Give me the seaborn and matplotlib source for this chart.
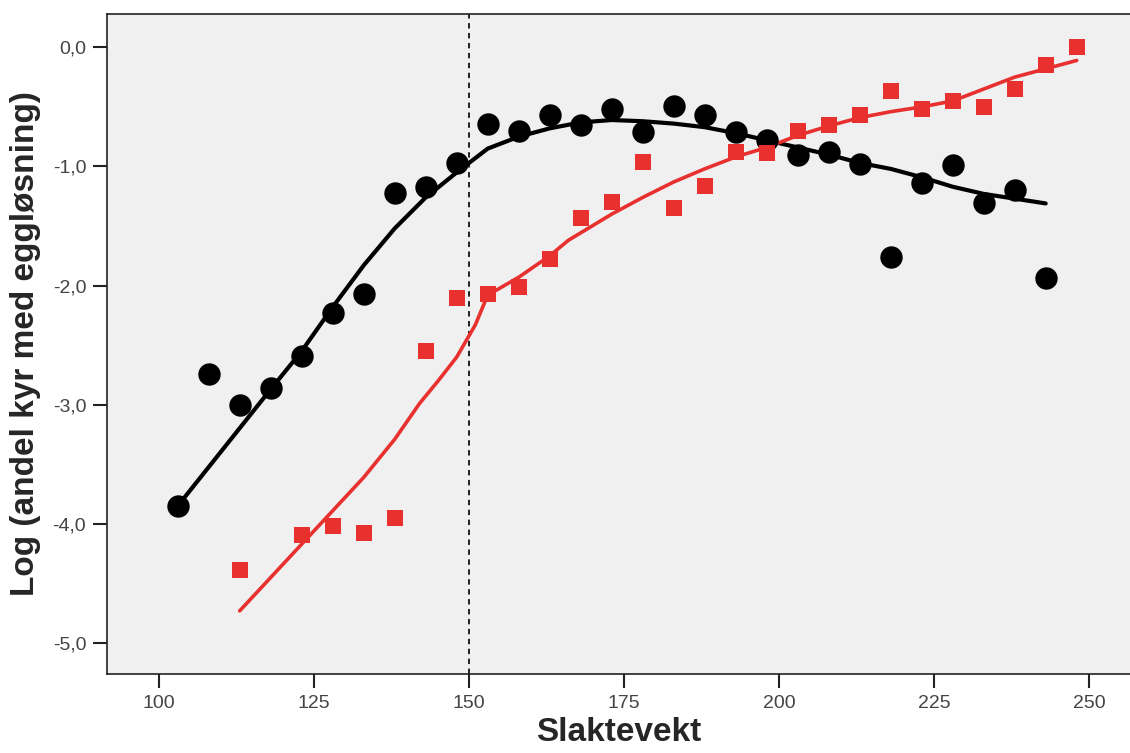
import matplotlib
matplotlib.use("Agg")
import matplotlib.pyplot as plt
import seaborn as sns
import pandas as pd
from matplotlib.ticker import FuncFormatter

# Observed points
black_x = [103, 108, 113, 118, 123, 128, 133, 138, 143, 148, 153, 158, 163, 168, 173,
           178, 183, 188, 193, 198, 203, 208, 213, 218, 223, 228, 233, 238, 243]
black_y = [-3.85, -2.74, -3.00, -2.86, -2.59, -2.23, -2.07, -1.22, -1.17, -0.97, -0.64,
           -0.70, -0.57, -0.65, -0.52, -0.71, -0.49, -0.57, -0.71, -0.78, -0.90, -0.88,
           -0.98, -1.76, -1.14, -0.99, -1.31, -1.20, -1.94]

red_x = [113, 123, 128, 133, 138, 143, 148, 153, 158, 163, 168, 173, 178, 183, 188,
         193, 198, 203, 208, 213, 218, 223, 228, 233, 238, 243, 248]
red_y = [-4.39, -4.09, -4.02, -4.08, -3.95, -2.55, -2.10, -2.07, -2.01, -1.78, -1.43,
         -1.30, -0.96, -1.35, -1.16, -0.88, -0.89, -0.70, -0.65, -0.57, -0.37, -0.52,
         -0.45, -0.50, -0.35, -0.15, 0.00]

# Fitted (loess) curves
black_fit_x = [103, 118, 123, 128, 133, 138, 143, 148, 153, 158, 163, 168, 173, 178,
               183, 188, 193, 198, 203, 208, 213, 218, 223, 228, 233, 238, 243]
black_fit_y = [-3.85, -2.87, -2.55, -2.18, -1.83, -1.52, -1.26, -1.05, -0.85, -0.75,
               -0.68, -0.63, -0.61, -0.62, -0.64, -0.67, -0.72, -0.78, -0.84, -0.90,
               -0.97, -1.02, -1.09, -1.17, -1.23, -1.27, -1.31]

red_fit_x = [113, 123, 128, 133, 138, 142, 145, 148, 151, 153, 158, 163, 166, 173, 178,
             183, 188, 193, 198, 203, 208, 213, 218, 223, 228, 233, 238, 243, 248]
red_fit_y = [-4.73, -4.17, -3.89, -3.61, -3.29, -2.99, -2.80, -2.60, -2.33, -2.08,
             -1.93, -1.75, -1.62, -1.40, -1.26, -1.13, -1.02, -0.92, -0.84, -0.74,
             -0.66, -0.59, -0.54, -0.50, -0.45, -0.35, -0.25, -0.18, -0.11]

x_ticks = [100, 125, 150, 175, 200, 225, 250]
y_ticks = [0, -1, -2, -3, -4, -5]
cutoff = 150

x_label = "Slaktevekt"
y_label = "Log (andel kyr med eggløsning)"

sns.set_theme(style="ticks")
plt.rcParams["font.family"] = ["Liberation Sans", "DejaVu Sans"]

fig = plt.figure(figsize=(11.3, 7.53), dpi=100)
ax = fig.add_axes([107 / 1130, 1 - 674 / 753, 1 - 107 / 1130, (674 - 14) / 753])
ax.set_facecolor("#f0f0f0")

black_df = pd.DataFrame({"x": black_x, "y": black_y})
red_df = pd.DataFrame({"x": red_x, "y": red_y})
bfit = pd.DataFrame({"x": black_fit_x, "y": black_fit_y})
rfit = pd.DataFrame({"x": red_fit_x, "y": red_fit_y})

black = "#000000"
red = "#e8302f"

ax.axvline(cutoff, color="#111111", linestyle=(0, (3, 2.5)), linewidth=1.3, zorder=1)

sns.lineplot(data=bfit, x="x", y="y", ax=ax, color=black, linewidth=3.0,
             sort=False, estimator=None, zorder=3)
sns.lineplot(data=rfit, x="x", y="y", ax=ax, color=red, linewidth=2.6,
             sort=False, estimator=None, zorder=3)
sns.scatterplot(data=black_df, x="x", y="y", ax=ax, color=black, marker="o",
                s=260, linewidth=0, zorder=4)
sns.scatterplot(data=red_df, x="x", y="y", ax=ax, color=red, marker="s",
                s=140, linewidth=0, zorder=4)

ax.set_xlim(91.6, 256.6)
ax.set_ylim(-5.26, 0.28)
ax.set_xticks(x_ticks)
ax.set_yticks(y_ticks)
ax.yaxis.set_major_formatter(FuncFormatter(lambda v, p: f"{v:.1f}".replace(".", ",")))

for s in ["top", "left", "bottom"]:
    ax.spines[s].set_color("#222222")
    ax.spines[s].set_linewidth(1.2)
ax.spines["right"].set_visible(False)

tick_font = ["Liberation Sans Narrow", "Liberation Sans", "DejaVu Sans"]
ax.tick_params(axis="both", direction="out", length=10, width=1.5, color="#222222",
               labelcolor="#444444", labelsize=14, pad=5)
for lab in ax.get_xticklabels() + ax.get_yticklabels():
    lab.set_family(tick_font)

ax.set_xlabel(x_label, fontsize=24, fontweight="bold", labelpad=4)
ax.set_ylabel(y_label, fontsize=24, fontweight="bold", labelpad=8)

fig.savefig("out.png", dpi=100)
